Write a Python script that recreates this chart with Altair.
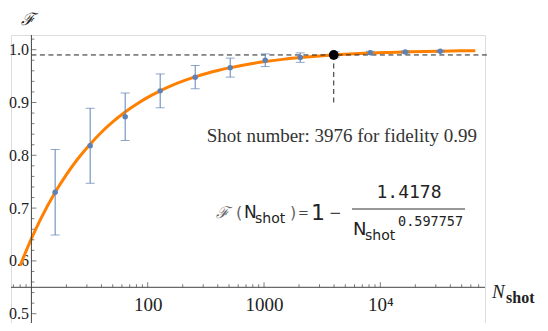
import altair as alt
import pandas as pd

# ---------------- data ----------------
N_SHOTS = [16, 32, 64, 128, 256, 512, 1024, 2048, 4096, 8192, 16384, 32768]
FIDELITY = [0.730, 0.818, 0.873, 0.922, 0.948, 0.966, 0.980, 0.985, 0.991, 0.994, 0.9956, 0.9972]
FID_ERR = [0.081, 0.071, 0.045, 0.032, 0.022, 0.018, 0.012, 0.009, 0.005, 0.003, 0.002, 0.0015]

# fitted curve
FIT_N = [8, 10, 12, 16, 20, 25, 32, 40, 50, 64, 80, 100, 128, 160, 200, 256, 320, 400,
         512, 640, 800, 1024, 1500, 2048, 3000, 4096, 6000, 8192, 12000, 16384, 24000,
         32768, 48000, 65536]
FIT_F = [0.591, 0.642, 0.679, 0.730, 0.7635, 0.793, 0.821, 0.8437, 0.8632, 0.882, 0.8967,
         0.9096, 0.922, 0.9318, 0.9403, 0.9484, 0.9549, 0.9605, 0.966, 0.9702, 0.9739,
         0.9775, 0.9821, 0.9851, 0.9882, 0.9902, 0.9922, 0.9935, 0.9948, 0.9957, 0.9966,
         0.9972, 0.99775, 0.99813]

FIT_A = "1.4178"
FIT_B = "0.597757"
TARGET_N = 3976
TARGET_F = 0.99
TARGET_LOW = 0.9

# axes / ticks
X_TICK_VALUES = [100, 1000, 10000]
X_MINOR = [7, 8, 9, 20, 30, 40, 50, 60, 70, 80, 90, 200, 300, 400, 500, 600, 700, 800, 900,
           2000, 3000, 4000, 5000, 6000, 7000, 8000, 9000, 20000, 30000, 40000, 50000,
           60000, 70000]
Y_TICK_VALUES = [0.5, 0.6, 0.7, 0.8, 0.9, 1.0]
Y_MINOR = [0.48, 0.52, 0.54, 0.56, 0.58, 0.62, 0.64, 0.66, 0.68, 0.72, 0.74, 0.76, 0.78,
           0.82, 0.84, 0.86, 0.88, 0.92, 0.94, 0.96, 0.98, 1.02]
X_ORIGIN = 10
Y_ORIGIN = 0.55

# ---------------- styling ----------------
W, H = 474, 288
XS = alt.Scale(type="log", domain=[6.676, 79430], nice=False)
YS = alt.Scale(domain=[0.4824, 1.0278], nice=False, zero=False)
BLUE = "#5E81B5"
ORANGE = "#FF8000"
AXC = "#444444"
SERIF = "Liberation Serif"

pts = pd.DataFrame({"N": N_SHOTS, "F": FIDELITY, "err": FID_ERR})
pts["lo"] = pts["F"] - pts["err"]
pts["hi"] = pts["F"] + pts["err"]
fit = pd.DataFrame({"N": FIT_N, "F": FIT_F})
target = pd.DataFrame({"N": [TARGET_N], "F": [TARGET_F], "lo": [TARGET_LOW]})
one = pd.DataFrame({"k": [0]})

x_axis = alt.Axis(values=X_TICK_VALUES, orient="bottom", offset=-35.7, domain=False,
                  ticks=False, tickSize=0, grid=False, labelPadding=8,
                  labelExpr="datum.value == 10000 ? '10\u2074' : format(datum.value, 'd')",
                  labelFont=SERIF, labelFontSize=19, labelColor="#222222",
                  labelFlush=False, labelOverlap=False, title="")
y_axis = alt.Axis(values=Y_TICK_VALUES, orient="left", offset=-20.4, domain=False,
                  ticks=False, tickSize=0, grid=False, labelPadding=3, format=".1f",
                  labelFont=SERIF, labelFontSize=16, labelColor="#222222",
                  labelFlush=False, labelOverlap=False, title="")

curve = alt.Chart(fit).mark_line(color=ORANGE, strokeWidth=3, interpolate="monotone").encode(
    x=alt.X("N:Q", scale=XS, axis=x_axis),
    y=alt.Y("F:Q", scale=YS, axis=y_axis),
)

# axis lines
x_line = alt.Chart(one).mark_rule(color=AXC, strokeWidth=1).encode(
    x=alt.value(0), x2=alt.value(W), y=alt.YDatum(Y_ORIGIN, scale=YS))
y_line = alt.Chart(one).mark_rule(color=AXC, strokeWidth=1).encode(
    x=alt.XDatum(X_ORIGIN, scale=XS), y=alt.value(0), y2=alt.value(H))

def xticks(vals, size):
    return alt.Chart(pd.DataFrame({"N": vals})).mark_tick(
        orient="vertical", size=size, thickness=1, yOffset=-size / 2, color=AXC
    ).encode(x=alt.X("N:Q", scale=XS), y=alt.YDatum(Y_ORIGIN, scale=YS))

def yticks(vals, size):
    return alt.Chart(pd.DataFrame({"F": vals})).mark_tick(
        orient="horizontal", size=size, thickness=1, xOffset=size / 2, color=AXC
    ).encode(y=alt.Y("F:Q", scale=YS), x=alt.XDatum(X_ORIGIN, scale=XS))

# dashed guides
h_dash = alt.Chart(target).mark_rule(color="#222222", strokeWidth=1, strokeDash=[5, 3.5]).encode(
    x=alt.XDatum(X_ORIGIN, scale=XS), x2=alt.value(476), y=alt.Y("F:Q", scale=YS))
v_dash = alt.Chart(target).mark_rule(color="#222222", strokeWidth=1, strokeDash=[5, 3.5]).encode(
    x=alt.X("N:Q", scale=XS), y=alt.Y("F:Q", scale=YS), y2="lo:Q")

# error bars and points
bars = alt.Chart(pts).mark_rule(color=BLUE, strokeWidth=1).encode(
    x=alt.X("N:Q", scale=XS), y=alt.Y("lo:Q", scale=YS), y2="hi:Q")
cap_lo = alt.Chart(pts).mark_tick(orient="horizontal", size=9, thickness=1, color=BLUE).encode(
    x=alt.X("N:Q", scale=XS), y=alt.Y("lo:Q", scale=YS))
cap_hi = alt.Chart(pts).mark_tick(orient="horizontal", size=9, thickness=1, color=BLUE).encode(
    x=alt.X("N:Q", scale=XS), y=alt.Y("hi:Q", scale=YS))
dots = alt.Chart(pts).mark_circle(size=30, color=BLUE, opacity=1).encode(
    x=alt.X("N:Q", scale=XS), y=alt.Y("F:Q", scale=YS))
tdot = alt.Chart(target).mark_circle(size=95, color="black", opacity=1).encode(
    x=alt.X("N:Q", scale=XS), y=alt.Y("F:Q", scale=YS))

def label(text, x, y, font=SERIF, size=16, color="#222222", align="left", **kw):
    return alt.Chart(one).mark_text(text=text, font=font, fontSize=size, color=color,
                                    align=align, baseline="middle", **kw).encode(
        x=alt.value(x), y=alt.value(y))

texts = [
    label("\u2131", 17, -15, font="DejaVu Serif", size=17, align="center", fontStyle="italic"),
    label("N", 481, 257, size=19, fontStyle="italic"),
    label("shot", 495, 263, size=16, fontWeight="bold"),
    label(f"Shot number: {TARGET_N} for fidelity {TARGET_F}", 466, 101, size=19,
          color="#333333", align="right"),
    label("\u2131", 205, 178, font="DejaVu Serif", size=16, color="#666666", fontStyle="italic"),
    label("(", 225, 178, font="DejaVu Sans", size=16, color="#666666"),
    label("N", 233, 178, font="DejaVu Sans", size=17),
    label("shot", 244, 184, font="DejaVu Sans", size=14),
    label(")", 279, 178, font="DejaVu Sans", size=16, color="#666666"),
    label("=", 287, 178, font="DejaVu Sans", size=13, color="#444444"),
    label("1", 300, 178, font="DejaVu Sans", size=22),
    label("\u2212", 318, 178, font="DejaVu Sans", size=15, color="#444444"),
    label(FIT_A, 398, 158, font="DejaVu Sans Mono", size=18, align="center"),
    label("N", 342, 195, font="DejaVu Sans", size=18),
    label("shot", 354, 201, font="DejaVu Sans", size=14),
    label(FIT_B, 387, 187, font="DejaVu Sans Mono", size=13.5),
]
frac_bar = alt.Chart(one).mark_rule(color="#333333", strokeWidth=1).encode(
    x=alt.value(341), x2=alt.value(454), y=alt.value(174))

chart = alt.layer(
    curve, h_dash, v_dash, x_line, y_line,
    xticks(X_MINOR, 3), xticks(X_TICK_VALUES, 5), yticks(Y_MINOR, 3), yticks(Y_TICK_VALUES, 5),
    bars, cap_lo, cap_hi, dots, tdot, frac_bar, *texts,
).properties(
    width=W, height=H,
    padding={"left": 3, "top": 27, "right": 55, "bottom": 0},
    autosize=alt.AutoSizeParams(type="none"),
).configure_view(stroke=None).configure(background="white")

chart.save("out.html", embed_options={"renderer": "svg", "actions": False})
